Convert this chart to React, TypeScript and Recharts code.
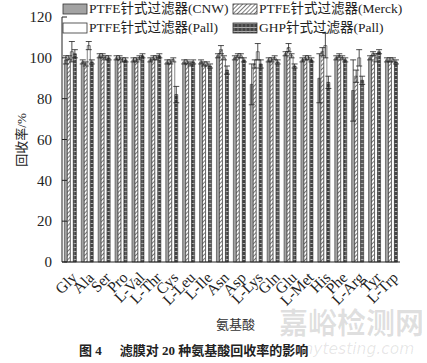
import { Bar, BarChart, ErrorBar, XAxis, YAxis } from 'recharts'

const AMINO_ACIDS = ['Gly', 'Ala', 'Ser', 'Pro', 'L-Val', 'L-Thr', 'Cys', 'L-Leu', 'L-Ile', 'Asn', 'Asp', 'L-Lys', 'Gln', 'Glu', 'L-Met', 'His', 'Phe', 'L-Arg', 'Tyr', 'L-Trp']

const CNW = [99, 98, 101, 100, 99, 99, 98, 98, 98, 101, 100, 87, 99, 102, 99, 90, 100, 84, 100, 99]
const CNW_ERR = [2, 1, 1, 1, 1, 1, 1, 1, 1, 1, 1, 10, 1, 1, 1, 12, 1, 15, 1, 1]
const MERCK = [100, 97, 101, 100, 99, 100, 98, 98, 97, 104, 101, 97, 99, 105, 100, 103, 101, 91, 102, 99]
const MERCK_ERR = [1, 1, 1, 1, 1, 1, 1, 1, 1, 2, 1, 2, 1, 2, 1, 2, 1, 3, 1, 1]
const PALL = [103, 106, 100, 99, 100, 100, 99, 97, 97, 100, 101, 103, 100, 101, 100, 106, 100, 100, 100, 99]
const PALL_ERR = [5, 2, 1, 1, 1, 1, 1, 1, 1, 1, 1, 4, 1, 1, 1, 6, 1, 4, 2, 1]
const GHP = [102, 98, 100, 99, 101, 101, 82, 98, 96, 94, 99, 97, 98, 96, 99, 88, 99, 89, 103, 98]
const GHP_ERR = [2, 1, 1, 1, 1, 1, 4, 1, 1, 2, 1, 2, 1, 1, 1, 3, 1, 2, 1, 1]

const Y_TICKS = [0, 20, 40, 60, 80, 100, 120]

const SERIES_NAMES = ['PTFE针式过滤器(CNW)', 'PTFE针式过滤器(Merck)', 'PTFE针式过滤器(Pall)', 'GHP针式过滤器(Pall)']

const FONT = "'Liberation Serif', 'Noto Sans CJK SC', serif"

const data = AMINO_ACIDS.map((name, i) => ({
  name,
  cnw: CNW[i],
  cnwErr: CNW_ERR[i],
  merck: MERCK[i],
  merckErr: MERCK_ERR[i],
  pall: PALL[i],
  pallErr: PALL_ERR[i],
  ghp: GHP[i],
  ghpErr: GHP_ERR[i],
}))

function Patterns({ prefix }: { prefix: string }) {
  return (
    <defs>
      <pattern id={`${prefix}-hatch`} width="3" height="3" patternUnits="userSpaceOnUse" patternTransform="rotate(45)">
        <rect width="3" height="3" fill="#fff" />
        <line x1="0" y1="0" x2="0" y2="3" stroke="#333" strokeWidth="1.3" />
      </pattern>
      <pattern id={`${prefix}-grid`} width="4" height="4" patternUnits="userSpaceOnUse">
        <rect width="4" height="4" fill="#444" />
        <line x1="0" y1="3.5" x2="4" y2="3.5" stroke="#ccc" strokeWidth="0.8" />
        <line x1="2" y1="0" x2="2" y2="4" stroke="#999" strokeWidth="0.6" />
      </pattern>
    </defs>
  )
}

function AngledTick({ x, y, payload }: { x?: number; y?: number; payload?: { value: string } }) {
  const tx = (x ?? 0) + 5
  const ty = (y ?? 0) + 6
  return (
    <text x={tx} y={ty} transform={`rotate(-45 ${tx} ${ty})`} textAnchor="end" dominantBaseline="middle" fontSize={15.5} fontFamily={FONT} fill="#222">
      {payload?.value}
    </text>
  )
}

function Legend() {
  const swatches = ['#a3a3a3', 'url(#lg-hatch)', '#fff', 'url(#lg-grid)']
  const pos = [
    [63, 4],
    [233, 4],
    [63, 23],
    [233, 23],
  ]
  return (
    <svg width={427} height={40} style={{ position: 'absolute', left: 0, top: 0 }}>
      <Patterns prefix="lg" />
      {SERIES_NAMES.map((name, i) => (
        <g key={name}>
          <rect x={pos[i][0]} y={pos[i][1]} width={24} height={10} fill={swatches[i]} stroke="#333" strokeWidth={0.8} />
          <text x={pos[i][0] + 26} y={pos[i][1] + 9} fontSize={13.5} fontFamily={FONT} fill="#222">
            {name}
          </text>
        </g>
      ))}
    </svg>
  )
}

export default function App() {
  return (
    <div style={{ position: 'absolute', left: 0, top: 0, width: 427, height: 363, background: '#fff', overflow: 'hidden' }}>
      <BarChart
        width={427}
        height={363}
        data={data}
        margin={{ top: 17, right: 27, bottom: 46, left: 32 }}
        barCategoryGap="14%"
        barGap={0}
      >
        <Patterns prefix="ch" />
        <XAxis
          dataKey="name"
          interval={0}
          tickLine={false}
          axisLine={{ stroke: '#222' }}
          tick={<AngledTick />}
          height={55}
        />
        <YAxis
          domain={[0, 120]}
          ticks={Y_TICKS}
          width={30}
          axisLine={{ stroke: '#222' }}
          tickLine={{ stroke: '#222' }}
          tickSize={-5}
          tickMargin={15}
          tick={{ fontSize: 15, fontFamily: FONT, fill: '#222' }}
        />
        <Bar dataKey="cnw" fill="#a3a3a3" stroke="#333" strokeWidth={0.6} isAnimationActive={false}>
          <ErrorBar dataKey="cnwErr" width={3} stroke="#222" strokeWidth={0.8} direction="y" />
        </Bar>
        <Bar dataKey="merck" fill="url(#ch-hatch)" stroke="#333" strokeWidth={0.6} isAnimationActive={false}>
          <ErrorBar dataKey="merckErr" width={3} stroke="#222" strokeWidth={0.8} direction="y" />
        </Bar>
        <Bar dataKey="pall" fill="#fff" stroke="#333" strokeWidth={0.6} isAnimationActive={false}>
          <ErrorBar dataKey="pallErr" width={3} stroke="#222" strokeWidth={0.8} direction="y" />
        </Bar>
        <Bar dataKey="ghp" fill="url(#ch-grid)" stroke="#333" strokeWidth={0.6} isAnimationActive={false}>
          <ErrorBar dataKey="ghpErr" width={3} stroke="#222" strokeWidth={0.8} direction="y" />
        </Bar>
      </BarChart>
      <Legend />
      <div
        style={{
          position: 'absolute',
          left: 12,
          top: 140,
          transform: 'translate(-50%, -50%) rotate(-90deg)',
          transformOrigin: 'center',
          marginLeft: 8,
          fontSize: 13,
          fontFamily: FONT,
          color: '#222',
          whiteSpace: 'nowrap',
        }}
      >
        回收率/%
      </div>
      <div
        style={{
          position: 'absolute',
          left: 279,
          top: 300,
          fontSize: 29,
          fontFamily: "'Noto Sans CJK SC', sans-serif",
          fontWeight: 700,
          color: 'rgba(0,0,0,0.12)',
          whiteSpace: 'nowrap',
        }}
      >
        嘉峪检测网
      </div>
      <div
        style={{
          position: 'absolute',
          left: 294,
          top: 340,
          fontSize: 15.5,
          fontStyle: 'italic',
          fontFamily: "'DejaVu Sans', sans-serif",
          color: 'rgba(0,0,0,0.1)',
          whiteSpace: 'nowrap',
        }}
      >
        anytesting.com
      </div>
      <div
        style={{
          position: 'absolute',
          left: 0,
          width: 427,
          top: 314,
          marginLeft: 22,
          textAlign: 'center',
          fontSize: 13,
          fontFamily: FONT,
          color: '#333',
        }}
      >
        氨基酸
      </div>
      <div
        style={{
          position: 'absolute',
          left: 79,
          top: 340,
          fontSize: 13,
          fontWeight: 700,
          fontFamily: FONT,
          color: '#222',
          whiteSpace: 'nowrap',
        }}
      >
        图 4<span style={{ marginLeft: 18 }}>滤膜对 20 种氨基酸回收率的影响</span>
      </div>
    </div>
  )
}
